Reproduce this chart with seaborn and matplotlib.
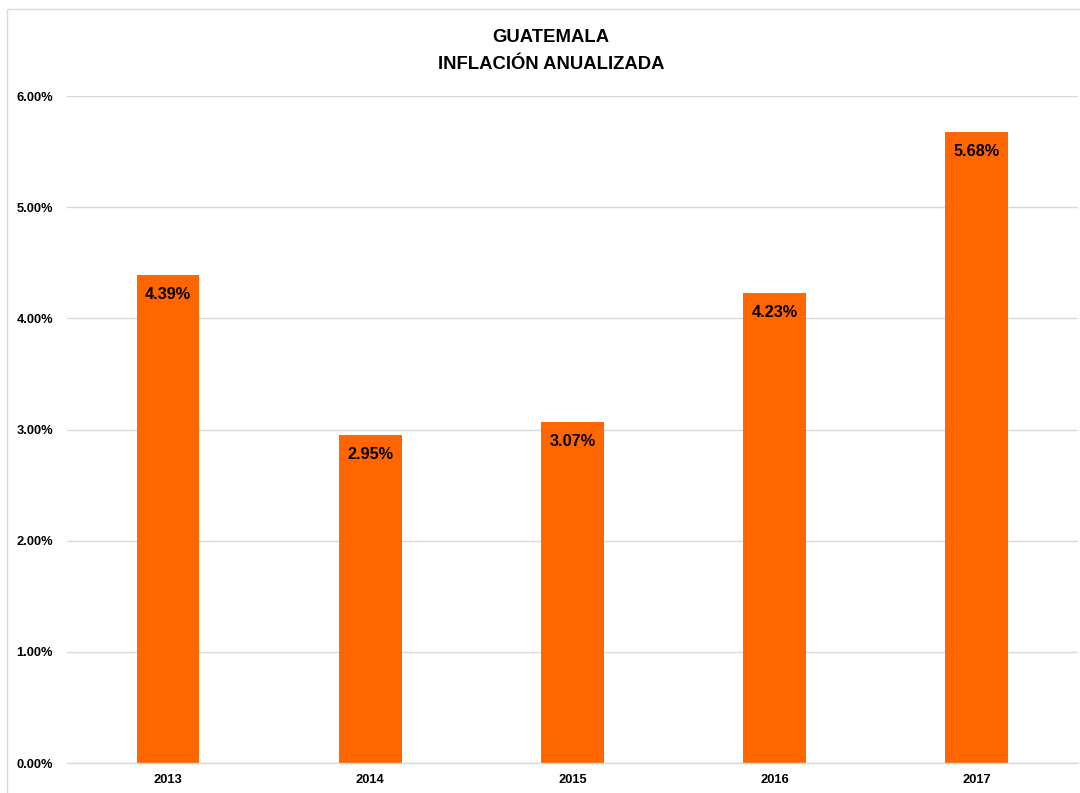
import matplotlib
matplotlib.use("Agg")
import matplotlib.pyplot as plt
import seaborn as sns
from matplotlib.patches import Rectangle
from matplotlib.ticker import FuncFormatter, MultipleLocator

years = ["2013", "2014", "2015", "2016", "2017"]
inflation = [4.39, 2.95, 3.07, 4.23, 5.68]
title_lines = ["GUATEMALA", "INFLACIÓN ANUALIZADA"]

sns.set_theme(style="white")
plt.rcParams["font.family"] = ["Liberation Sans", "DejaVu Sans"]

fig = plt.figure(figsize=(10.8, 7.93), dpi=100)
ax = fig.add_axes([0.062, 0.0378, 0.936, 0.841])

sns.barplot(x=years, y=inflation, color="#FF6600", width=0.31, ax=ax,
            saturation=1, edgecolor="none")

ax.set_ylim(0, 6)
ax.set_xlim(-0.5, 4.5)
ax.yaxis.set_major_locator(MultipleLocator(1))
ax.yaxis.set_major_formatter(FuncFormatter(lambda v, p: f"{v:.2f}%"))
ax.grid(axis="y", color="#d9d9d9", linewidth=1)
ax.set_axisbelow(True)
for s in ["top", "right", "left"]:
    ax.spines[s].set_visible(False)
ax.spines["bottom"].set_color("#d9d9d9")
ax.spines["bottom"].set_linewidth(1)
ax.set_xlabel("")
ax.set_ylabel("")
ax.tick_params(axis="both", length=0, labelsize=9.3, colors="black")
ax.tick_params(axis="y", pad=10)
ax.tick_params(axis="x", pad=8)
for lbl in ax.get_xticklabels() + ax.get_yticklabels():
    lbl.set_fontweight("bold")

for container in ax.containers:
    ax.bar_label(container, labels=[f"{v:.2f}%" for v in inflation],
                 padding=-19.5, fontsize=11.7, fontweight="bold", color="black")

fig.text(0.510, 0.953, title_lines[0], ha="center", va="center",
         fontsize=13.3, fontweight="bold", color="black")
fig.text(0.510, 0.919, title_lines[1], ha="center", va="center",
         fontsize=13.3, fontweight="bold", color="black")

fig.patches.append(Rectangle((0.0065, -0.01), 1.0, 0.9987, transform=fig.transFigure,
                             fill=False, edgecolor="#d9d9d9", linewidth=1))

fig.savefig("out.png", dpi=100, facecolor="white")
